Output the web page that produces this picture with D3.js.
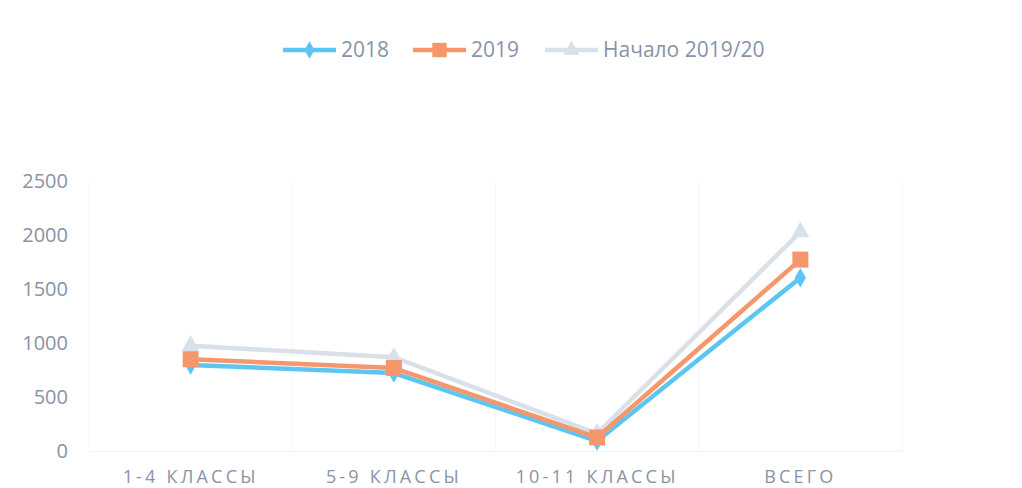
<!DOCTYPE html>
<html><head><meta charset="utf-8">
<script src="https://cdn.jsdelivr.net/npm/d3@7"></script>
<style>body{margin:0;background:#fff}svg{display:block}text{font-family:"Open Sans",sans-serif}</style>
</head><body><svg id="c" width="1022" height="488"></svg>
<script>
const categories = ["1-4 КЛАССЫ", "5-9 КЛАССЫ", "10-11 КЛАССЫ", "ВСЕГО"];
const seriesNames = ["2018", "2019", "Начало 2019/20"];
const values2018 = [796, 722, 92, 1605];
const values2019 = [850, 768, 125, 1772];
const valuesStart = [975, 868, 162, 2028];
const yTicks = [0, 500, 1000, 1500, 2000, 2500];

const series = [
  {name: seriesNames[0], values: values2018, color: "#5cc6f3", marker: "diamond"},
  {name: seriesNames[1], values: values2019, color: "#f5976c", marker: "square"},
  {name: seriesNames[2], values: valuesStart, color: "#d9e0ea", marker: "triangle"}
];

const svg = d3.select("#c");
const x = d3.scaleBand().domain(categories).range([89, 902]);
const y = d3.scaleLinear().domain([0, 2500]).range([451, 181]);
const textColor = "#8893a7";

const edges = categories.map(c => x(c)).concat([x.range()[1]]);
svg.append("g").selectAll("line").data(edges).join("line")
  .attr("x1", d => d).attr("x2", d => d).attr("y1", 181).attr("y2", 451)
  .attr("stroke", "#f6f7f9").attr("stroke-width", 1);
svg.append("line").attr("x1", 89).attr("x2", 902).attr("y1", 451.5).attr("y2", 451.5)
  .attr("stroke", "#f0f2f5").attr("stroke-width", 1);

const yAxis = d3.axisLeft(y).tickValues(yTicks).tickFormat(d3.format("d")).tickSize(0).tickPadding(0);
const gy = svg.append("g").attr("transform", "translate(68,0)").call(yAxis);
gy.select(".domain").remove();
gy.selectAll("text").attr("fill", textColor).style("font-size", "20px").style("font-family", "Open Sans");

const xAxis = d3.axisBottom(x).tickSize(0).tickPadding(0);
const gx = svg.append("g").attr("transform", "translate(0,470)").call(xAxis);
gx.select(".domain").remove();
gx.selectAll("text").attr("fill", textColor).style("font-size", "18px").style("font-family", "Open Sans")
  .style("letter-spacing", "3.2px").attr("dy", "0.71em");

const cx = c => x(c) + x.bandwidth() / 2;
const line = d3.line().x((d, i) => cx(categories[i])).y(d => y(d));

function drawMarker(g, type, color, scale) {
  const k = scale || 1;
  if (type === "diamond") g.append("path").attr("d", d3.symbol(d3.symbolDiamond, 110 * k * k)()).attr("fill", color);
  else if (type === "square") g.append("rect").attr("x", -8 * k).attr("y", -8 * k).attr("width", 16 * k).attr("height", 16 * k).attr("fill", color);
  else g.append("path").attr("d", d3.symbol(d3.symbolTriangle, 140 * k * k)()).attr("fill", color);
}

const order = [2, 0, 1];
order.forEach(k => {
  const s = series[k];
  svg.append("path").datum(s.values).attr("d", line).attr("fill", "none")
    .attr("stroke", s.color).attr("stroke-width", 4.5).attr("stroke-linejoin", "round");
  s.values.forEach((v, i) => {
    const g = svg.append("g").attr("transform", `translate(${cx(categories[i])},${y(v)})`);
    drawMarker(g, s.marker, s.color);
  });
});

const legendX = [283, 413, 545];
series.forEach((s, i) => {
  const g = svg.append("g").attr("transform", `translate(${legendX[i]},50)`);
  g.append("line").attr("x1", 0).attr("x2", 53).attr("y1", 0).attr("y2", 0)
    .attr("stroke", s.color).attr("stroke-width", 4.5);
  const m = g.append("g").attr("transform", "translate(26.5,0)");
  drawMarker(m, s.marker, s.color, 0.9);
  g.append("text").attr("x", 58).attr("y", 0).attr("dy", "0.35em").attr("fill", textColor)
    .style("font-size", "21px").text(s.name);
});
</script></body></html>
